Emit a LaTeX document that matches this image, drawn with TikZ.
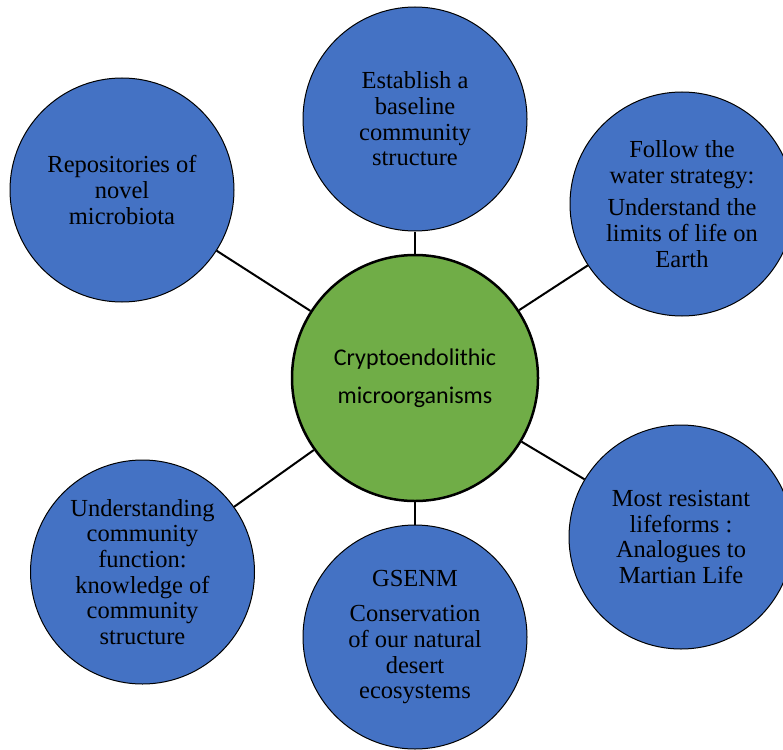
\documentclass[tikz,border=0pt]{standalone}
\usepackage{fontspec}
\setmainfont{Liberation Serif}
\newfontfamily\calib{Carlito}
\definecolor{cblue}{HTML}{4472C4}
\definecolor{cgreen}{HTML}{70AD47}
\tikzset{
  leaf/.style={circle, draw=black, line width=1pt, fill=cblue, minimum size=224pt, inner sep=0pt, align=center, font=\fontsize{24.5}{25.6}\selectfont},
  hub/.style={circle, draw=black, line width=2.5pt, fill=cgreen, minimum size=246pt, inner sep=0pt, align=center, font=\calib\fontsize{24}{38}\selectfont},
  link/.style={draw=black, line width=2pt}
}
\begin{document}
\begin{tikzpicture}[x=1pt, y=-1pt]
\useasboundingbox (0,0) rectangle (783,749);
\node[hub] (c) at (415,378) {Cryptoendolithic\\microorganisms};
\node[leaf] (tl) at (122,190) {Repositories of\\novel\\microbiota};
\node[leaf] (t) at (415,119) {Establish a\\baseline\\community\\structure};
\node[leaf] (tr) at (682,204) {Follow the\\water strategy:\\[7pt]Understand the\\limits of life on\\Earth};
\node[leaf] (br) at (681,537) {Most resistant\\lifeforms :\\Analogues to\\Martian Life};
\node[leaf] (b) at (415,637) {GSENM\\[10pt]Conservation\\of our natural\\desert\\ecosystems};
\node[leaf] (bl) at (142.5,572) {Understanding\\community\\function:\\knowledge of\\community\\structure};
\draw[link] (c) -- (tl);
\draw[link] (c) -- (t);
\draw[link] (c) -- (tr);
\draw[link] (c) -- (br);
\draw[link] (c) -- (b);
\draw[link] (c) -- (bl);
\end{tikzpicture}
\end{document}
